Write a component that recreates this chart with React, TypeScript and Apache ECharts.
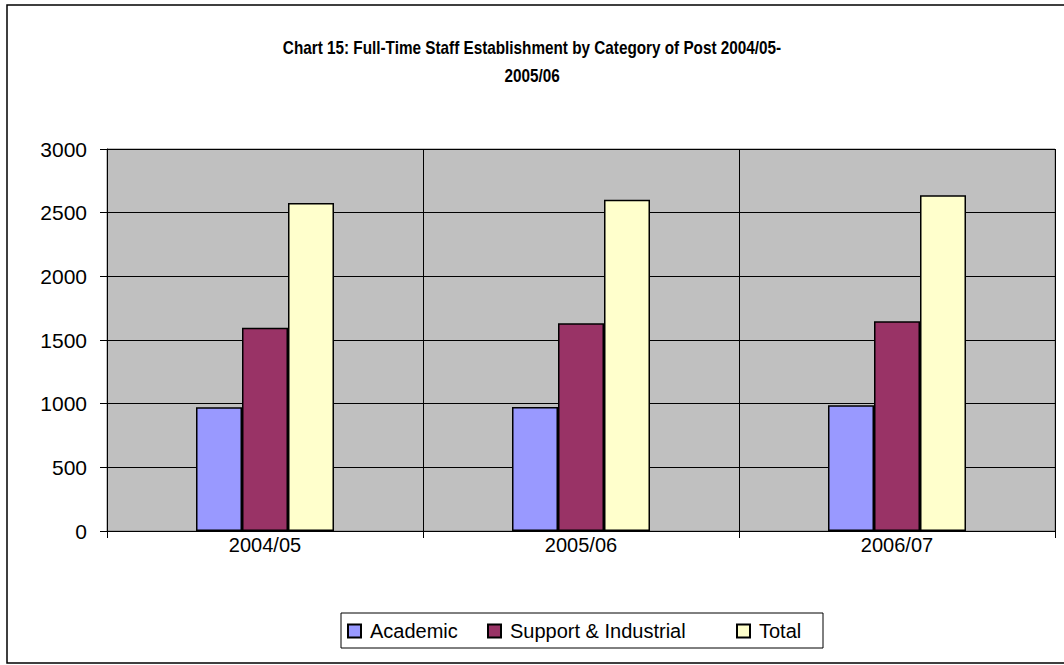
import React, { useEffect, useRef } from "react";
import * as echarts from "echarts";

const categories = ["2004/05", "2005/06", "2006/07"];
const academic = [972, 973, 988];
const supportIndustrial = [1596, 1632, 1648];
const total = [2575, 2602, 2636];
const seriesNames = ["Academic", "Support & Industrial", "Total"];
const seriesColors = ["#9999FF", "#993366", "#FFFFCC"];
const titleLines = ["Chart 15: Full-Time Staff Establishment by Category of Post 2004/05-", "2005/06"];

export default function App() {
  const ref = useRef<HTMLDivElement>(null);
  useEffect(() => {
    if (!ref.current) return;
    const chart = echarts.init(ref.current, null, { renderer: "svg" });
    const data = [academic, supportIndustrial, total];
    const legendLefts = [347, 487, 736];
    const titleFont = {
      fontFamily: "'Liberation Sans', Arial, sans-serif",
      fontWeight: "bold",
      fontSize: 18,
      fill: "#000",
      align: "center",
      verticalAlign: "middle",
    };
    chart.setOption({
      animation: false,
      backgroundColor: "#FFFFFF",
      grid: {
        left: 107,
        right: 9,
        top: 149,
        bottom: 134,
        show: true,
        backgroundColor: "#C0C0C0",
        borderColor: "#808080",
        borderWidth: 1,
      },
      legend: seriesNames.map((name, i) => ({
        left: legendLefts[i],
        top: 621,
        data: [name],
        padding: 0,
        itemWidth: 13,
        itemHeight: 13,
        icon: "rect",
        selectedMode: false,
        textStyle: {
          fontFamily: "'Liberation Sans', Arial, sans-serif",
          fontSize: 20,
          color: "#000",
          padding: [0, 0, 0, 4],
        },
      })),
      xAxis: {
        type: "category",
        data: categories,
        axisLine: { show: true, lineStyle: { color: "#000", width: 1 } },
        axisTick: { show: true, length: 7, lineStyle: { color: "#000" } },
        splitLine: { show: true, lineStyle: { color: "#000", width: 1 } },
        axisLabel: {
          fontFamily: "'Liberation Sans', Arial, sans-serif",
          fontSize: 20,
          color: "#000",
          margin: 4,
        },
      },
      yAxis: {
        type: "value",
        min: 0,
        max: 3000,
        interval: 500,
        axisLine: { show: true, lineStyle: { color: "#000", width: 1 } },
        axisTick: { show: true, length: 7, lineStyle: { color: "#000" } },
        splitLine: { show: true, lineStyle: { color: "#000", width: 1 } },
        axisLabel: {
          fontFamily: "'Liberation Sans', Arial, sans-serif",
          fontSize: 21,
          color: "#000",
          margin: 20,
          formatter: (v: number) => String(v),
        },
      },
      series: seriesNames.map((name, i) => ({
        name,
        type: "bar",
        data: data[i],
        barWidth: 46,
        barGap: "0%",
        itemStyle: {
          color: seriesColors[i],
          borderColor: "#000",
          borderWidth: 1.5,
        },
      })),
      graphic: [
        {
          type: "rect",
          shape: { x: 7, y: 5, width: 1060, height: 658 },
          style: { fill: "none", stroke: "#000", lineWidth: 1.5 },
          silent: true,
        },
        {
          type: "rect",
          shape: { x: 341, y: 613, width: 482, height: 35 },
          style: { fill: "none", stroke: "#000", lineWidth: 1 },
          silent: true,
        },
        {
          type: "text",
          x: 532,
          y: 48,
          scaleX: 0.85,
          silent: true,
          style: { ...titleFont, text: titleLines[0] },
        },
        {
          type: "text",
          x: 532,
          y: 76,
          scaleX: 0.85,
          silent: true,
          style: { ...titleFont, text: titleLines[1] },
        },
      ],
    });
    return () => chart.dispose();
  }, []);
  return (
    <div
      ref={ref}
      style={{ position: "absolute", left: 0, top: 0, width: 1064, height: 665 }}
    />
  );
}
